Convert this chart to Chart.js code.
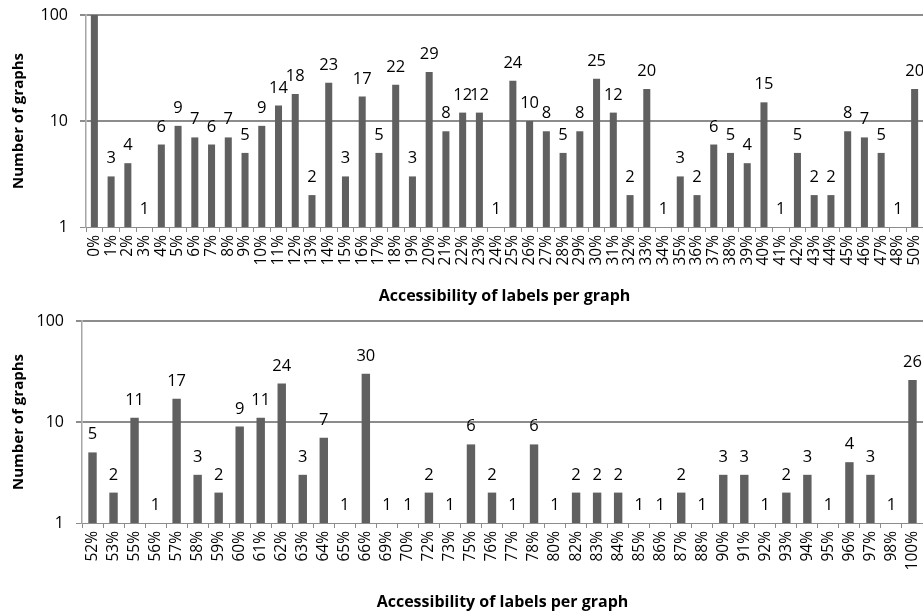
<!DOCTYPE html>
<html>
<head>
<meta charset="utf-8">
<script src="https://cdn.jsdelivr.net/npm/chart.js@4.4.0/dist/chart.umd.min.js"></script>
<style>
  body { margin: 0; background: #fff; }
  .box { position: absolute; left: 0; width: 923px; height: 308px; }
  #box1 { top: 0; }
  #box2 { top: 308px; }
</style>
</head>
<body>
<div class="box" id="box1"><canvas id="chartLow"></canvas></div>
<div class="box" id="box2"><canvas id="chartHigh"></canvas></div>
<script>
// données
const lowLabels = ['0%','1%','2%','3%','4%','5%','6%','7%','8%','9%','10%','11%','12%','13%','14%','15%','16%','17%','18%','19%',
  '20%','21%','22%','23%','24%','25%','26%','27%','28%','29%','30%','31%','32%','33%','34%','35%','36%','37%','38%','39%',
  '40%','41%','42%','43%','44%','45%','46%','47%','48%','50%'];
// la barre 0% dépasse le haut de l'axe (valeur estimée)
const lowValues = [120, 3, 4, 1, 6, 9, 7, 6, 7, 5, 9, 14, 18, 2, 23, 3, 17, 5, 22, 3,
  29, 8, 12, 12, 1, 24, 10, 8, 5, 8, 25, 12, 2, 20, 1, 3, 2, 6, 5, 4,
  15, 1, 5, 2, 2, 8, 7, 5, 1, 20];

const highLabels = ['52%','53%','55%','56%','57%','58%','59%','60%','61%','62%','63%','64%','65%','66%','69%','70%','72%','73%','75%','76%',
  '77%','78%','80%','82%','83%','84%','85%','86%','87%','88%','90%','91%','92%','93%','94%','95%','96%','97%','98%','100%'];
const highValues = [5, 2, 11, 1, 17, 3, 2, 9, 11, 24, 3, 7, 1, 30, 1, 1, 2, 1, 6, 2,
  1, 6, 1, 2, 2, 2, 1, 1, 2, 1, 3, 3, 1, 2, 3, 1, 4, 3, 1, 26];

const yTicks = [1, 10, 100];
const xTitle = 'Accessibility of labels per graph';
const yTitle = 'Number of graphs';

const FONT = '"Open Sans", "DejaVu Sans", sans-serif';
const GRID = '#8c8c8c';

// étiquettes de valeur au-dessus des barres
const valueLabels = {
  id: 'valueLabels',
  afterDatasetsDraw(chart) {
    const ctx = chart.ctx;
    const y = chart.scales.y;
    const meta = chart.getDatasetMeta(0);
    const data = chart.data.datasets[0].data;
    ctx.save();
    ctx.font = '16.5px ' + FONT;
    ctx.fillStyle = '#000';
    ctx.textAlign = 'center';
    ctx.textBaseline = 'alphabetic';
    meta.data.forEach((bar, i) => {
      const v = data[i];
      if (v > y.max) return;
      ctx.fillText(String(v), bar.x, y.getPixelForValue(v) - 13);
    });
    ctx.restore();
  }
};

function initChart(id, labels, values, opts) {
  const ctx = document.getElementById(id).getContext('2d');
  return new Chart(ctx, {
    type: 'bar',
    data: {
      labels: labels,
      datasets: [{
        data: values,
        backgroundColor: '#606060',
        borderWidth: 0,
        barPercentage: opts.barPct,
        categoryPercentage: 1
      }]
    },
    options: {
      responsive: true,
      maintainAspectRatio: false,
      animation: false,
      layout: {
        autoPadding: false,
        padding: { top: opts.top, right: 0, left: 0, bottom: 0 }
      },
      plugins: {
        legend: { display: false },
        tooltip: { enabled: false }
      },
      scales: {
        x: {
          grid: {
            offset: true,
            drawOnChartArea: false,
            drawTicks: true,
            tickLength: 5,
            color: GRID,
            lineWidth: 1
          },
          border: { display: true, color: GRID, width: 1 },
          ticks: {
            minRotation: 90,
            maxRotation: 90,
            autoSkip: false,
            padding: 3,
            color: '#000',
            font: { family: FONT, size: 15.5 }
          },
          title: {
            display: true,
            text: xTitle,
            color: '#000',
            font: { family: FONT, size: 16, weight: 'bold' },
            padding: { top: 0, bottom: opts.titlePad }
          },
          afterFit: function(scale) {
            scale.height = opts.xHeight;
            scale.paddingLeft = 0;
            scale.paddingRight = 0;
          }
        },
        y: {
          type: 'logarithmic',
          min: 1,
          max: 100,
          afterBuildTicks: function(scale) {
            scale.ticks = yTicks.map(v => ({ value: v }));
          },
          grid: {
            color: GRID,
            lineWidth: c => (c.tick && c.tick.value === 1) ? 1 : 2,
            tickLength: 6
          },
          border: { display: true, color: '#a6a6a6', width: 1.5 },
          ticks: {
            padding: 12,
            color: '#000',
            font: { family: FONT, size: 16 },
            callback: v => String(v)
          },
          title: {
            display: true,
            text: yTitle,
            color: '#000',
            font: { family: FONT, size: 15, weight: 'bold' },
            padding: { top: 10, bottom: 0 }
          },
          afterFit: function(scale) {
            scale.width = opts.yWidth;
            scale.paddingTop = 0;
            scale.paddingBottom = 0;
          }
        }
      }
    },
    plugins: [valueLabels]
  });
}

initChart('chartLow', lowLabels, lowValues, { top: 15, xHeight: 81, yWidth: 86, barPct: 0.42, titlePad: 2 });
initChart('chartHigh', highLabels, highValues, { top: 13, xHeight: 93, yWidth: 82, barPct: 0.4, titlePad: 4 });
</script>
</body>
</html>
